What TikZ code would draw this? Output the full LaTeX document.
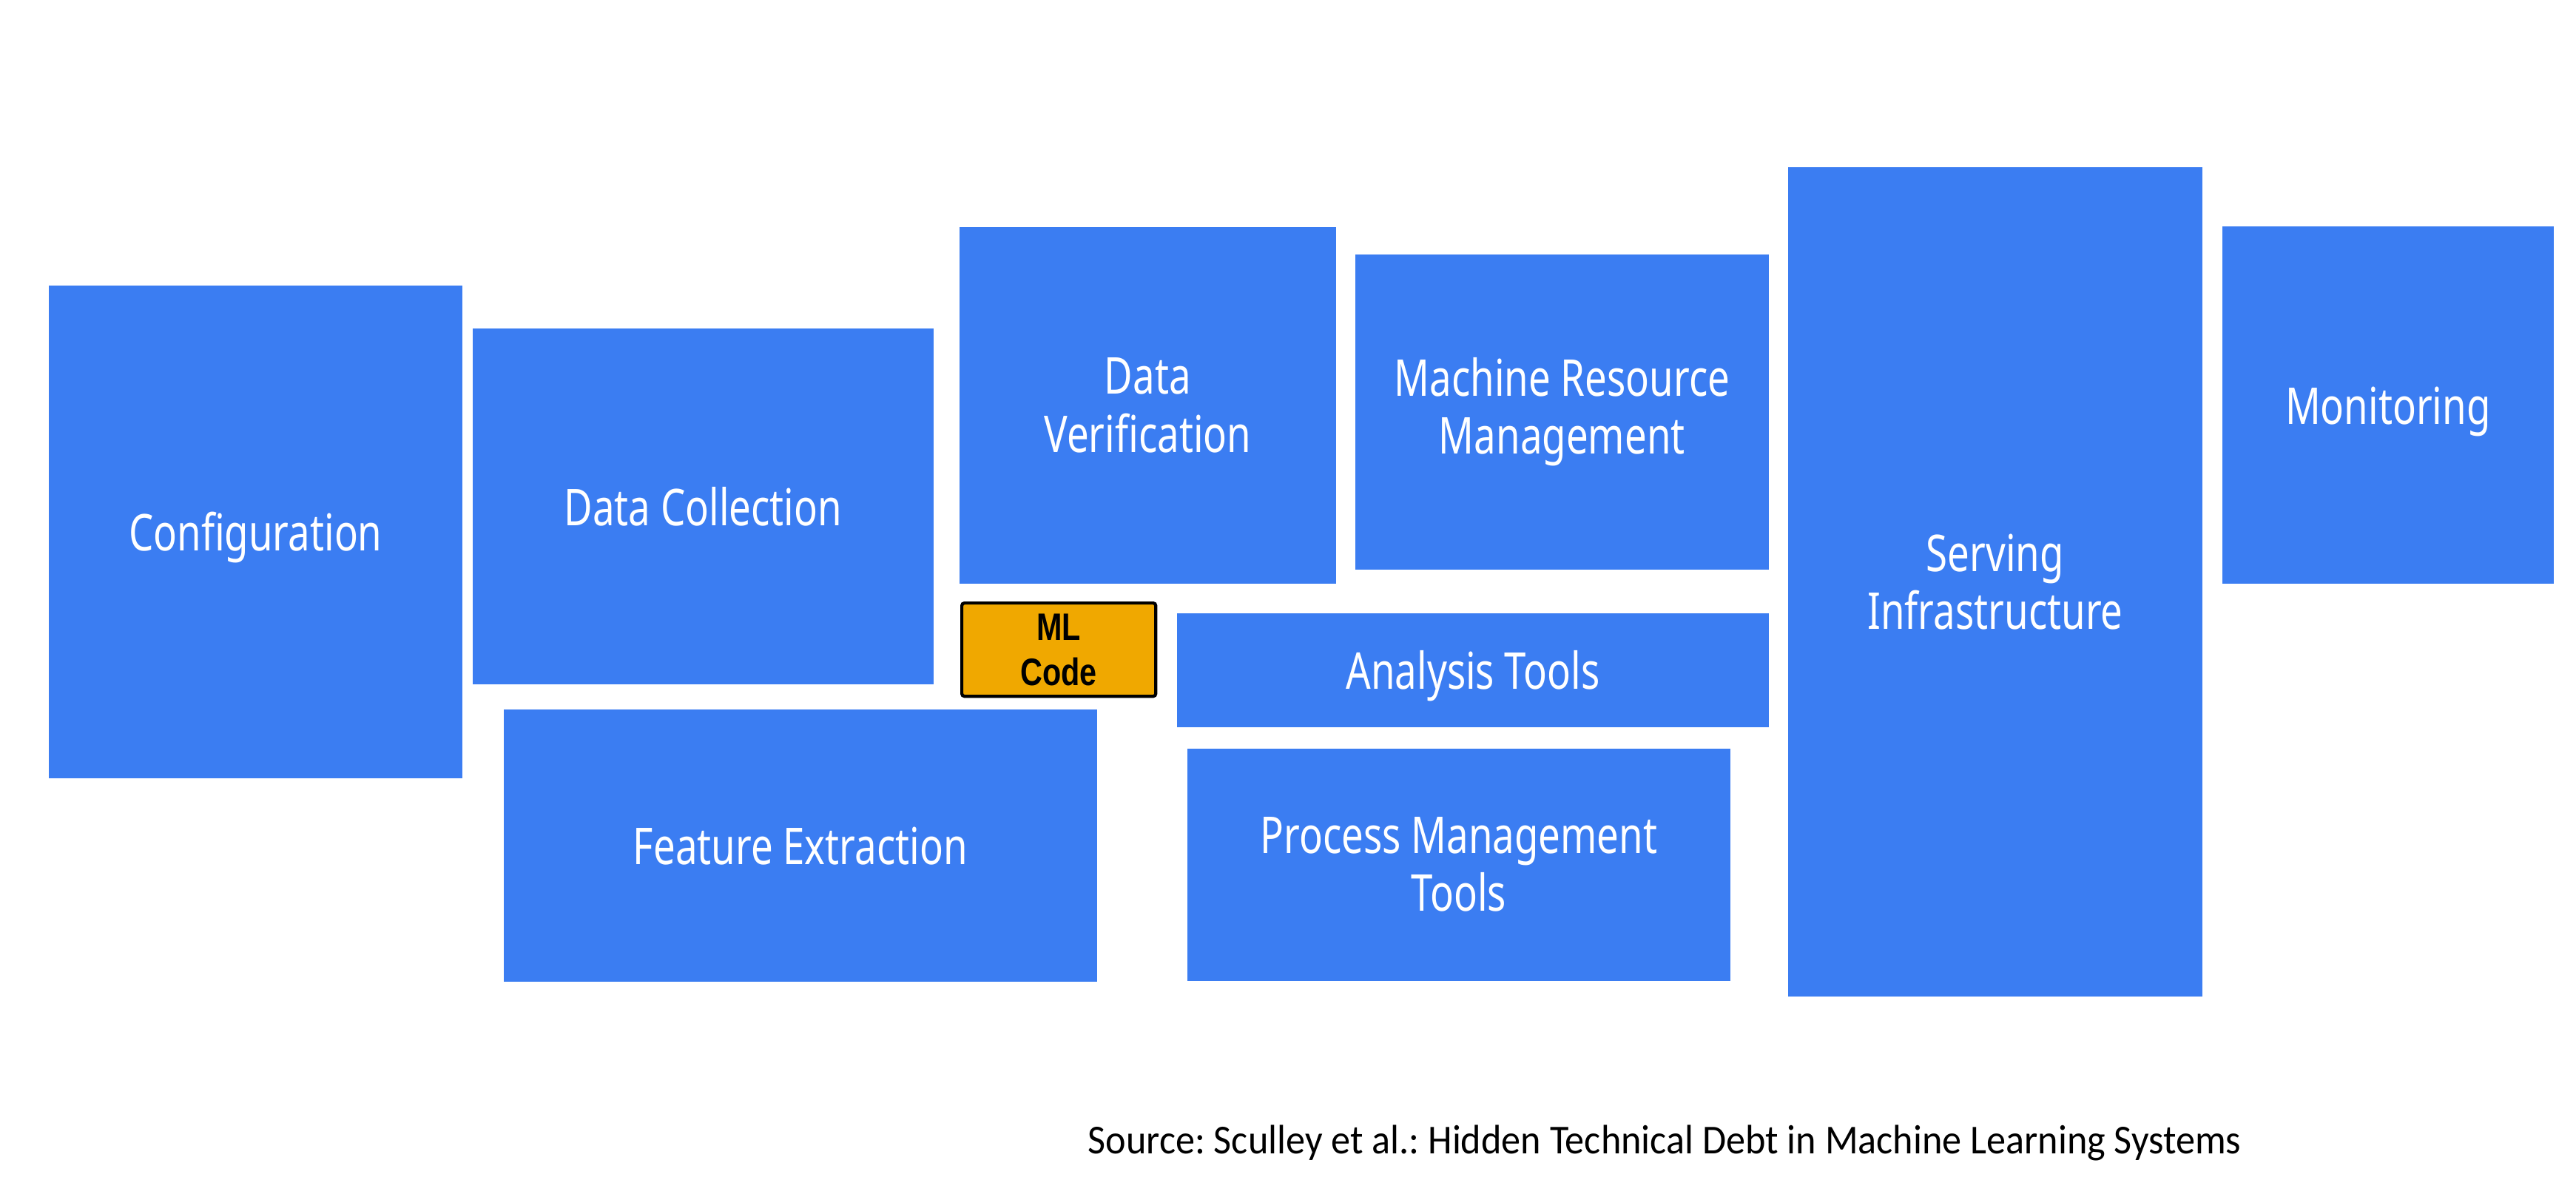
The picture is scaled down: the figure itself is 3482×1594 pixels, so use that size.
\documentclass[tikz,border=0pt]{standalone}
\usepackage{fontspec}
\setmainfont[FakeStretch=0.94]{Carlito}
\newfontfamily\labelfont[FakeStretch=0.77]{Noto Sans}
\newfontfamily\mlfont[FakeStretch=0.8]{Liberation Sans}
\definecolor{blockblue}{RGB}{59,125,242}
\definecolor{mlorange}{RGB}{240,168,0}
\frenchspacing
\begin{document}
\begin{tikzpicture}[
    x=0.01cm,y=-0.01cm,
    block/.style={fill=blockblue,text=white,anchor=north west,inner sep=0pt,align=center,
        font=\labelfont\fontsize{19.5}{22.2}\selectfont},
    oneline/.style={text height=14.8pt,text depth=0pt},
    blocksize/.style 2 args={minimum width=#1cm,minimum height=#2cm},
    mlcode/.style={draw=black,fill=mlorange,line width=1.2pt,rounded corners=1pt,anchor=north west,
        inner sep=0pt,align=center,font=\mlfont\bfseries\fontsize{14.7}{17.4}\selectfont}
]
    \useasboundingbox (0,0) rectangle (3482,1594);
    \fill[white] (0,0) rectangle (3482,1594);
    \node[block,oneline,blocksize={5.59}{6.66}] (config) at (65,385) {Configuration};
    \node[block,oneline,blocksize={6.23}{4.81}] (collect) at (638,443) {Data Collection};
    \node[block,oneline,blocksize={8.02}{3.68}] (feature) at (680,958) {Feature Extraction};
    \node[block,blocksize={5.09}{4.82}] (verify) at (1296,306) {Data\\Verification};
    \node[mlcode,minimum width=2.62cm,minimum height=1.26cm] (ml) at (1298,813) {ML\\Code};
    \node[block,blocksize={5.59}{4.26}] (resource) at (1831,343) {Machine Resource\\Management};
    \node[block,oneline,blocksize={8.00}{1.54}] (analysis) at (1590,828) {Analysis Tools};
    \node[block,blocksize={7.34}{3.14}] (process) at (1604,1011) {Process Management\\Tools};
    \node[block,blocksize={5.60}{11.21}] (serving) at (2416,225) {Serving\\Infrastructure};
    \node[block,oneline,blocksize={4.48}{4.83}] (monitor) at (3003,305) {Monitoring};
    \node[anchor=base west,inner sep=0pt,font=\fontsize{15.8}{19}\selectfont] (source) at (1470,1559)
        {Source: Sculley et al.: Hidden Technical Debt in Machine Learning Systems};
\end{tikzpicture}
\end{document}
